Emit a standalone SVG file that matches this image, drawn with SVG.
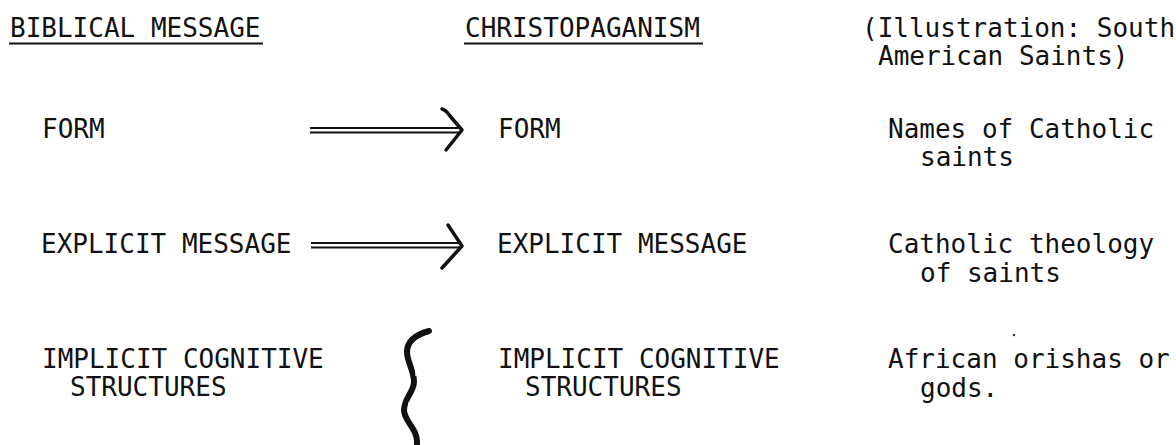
<svg xmlns="http://www.w3.org/2000/svg" width="1176" height="445" viewBox="0 0 1176 445">
<style>
text{font-family:"DejaVu Sans Mono","Liberation Mono",monospace;font-size:26px;fill:#111;}
.ul{stroke:#111;stroke-width:2;}
.dl{stroke:#111;stroke-width:2;fill:none;}
.head{stroke:#111;stroke-width:3.5;fill:none;stroke-linecap:round;stroke-linejoin:round;}
</style>
<rect width="1176" height="445" fill="#fff"/>
<g id="header-biblical">
<text x="10" y="37">BIBLICAL MESSAGE</text>
<line class="ul" x1="9" y1="43.5" x2="263" y2="43.5"/>
</g>
<g id="header-christopaganism">
<text x="465" y="37">CHRISTOPAGANISM</text>
<line class="ul" x1="464" y1="43.5" x2="703" y2="43.5"/>
</g>
<g id="header-illustration">
<text x="862" y="37">(Illustration: South</text>
<text x="878" y="65">American Saints)</text>
</g>
<g id="bib-form"><text x="42" y="138">FORM</text></g>
<g id="chr-form"><text x="498" y="138">FORM</text></g>
<g id="ill-form"><text x="888" y="138">Names of Catholic</text><text x="920" y="166">saints</text></g>
<g id="bib-explicit"><text x="41" y="253">EXPLICIT MESSAGE</text></g>
<g id="chr-explicit"><text x="497" y="253">EXPLICIT MESSAGE</text></g>
<g id="ill-explicit"><text x="888" y="253">Catholic theology</text><text x="920" y="282">of saints</text></g>
<g id="bib-implicit"><text x="42" y="368">IMPLICIT COGNITIVE</text><text x="70" y="396">STRUCTURES</text></g>
<g id="chr-implicit"><text x="498" y="368">IMPLICIT COGNITIVE</text><text x="525" y="396">STRUCTURES</text></g>
<g id="ill-implicit"><text x="888" y="368">African orishas or</text><text x="920" y="397">gods.</text></g>
<g id="connectors">
<g id="arrow-form">
<line class="dl" x1="310" y1="128" x2="460" y2="128"/>
<line class="dl" x1="310" y1="132.5" x2="460" y2="132.5"/>
<path class="head" d="M442,109 Q446,110 450,116 L462,130 L446,150"/>
</g>
<g id="arrow-explicit">
<line class="dl" x1="311" y1="243" x2="460" y2="243"/>
<line class="dl" x1="311" y1="247.5" x2="460" y2="247.5"/>
<path class="head" d="M448,225 L462,246 L442,268"/>
</g>
<g id="break-implicit">
<path d="M429,331 C418,334 407,340 407,352 C407,362 414,370 414,382 C414,392 404,398 404,410 C404,422 418,428 417,444" stroke="#111" stroke-width="6" fill="none" stroke-linecap="round"/>
<path d="M412,350 C412,360 416,366 416,376 M409,402 C408,410 410,414 412,418" stroke="#fff" stroke-width="1.2" fill="none"/>
</g>
</g>
<circle cx="1014" cy="335" r="1.2" fill="#333"/>
</svg>
